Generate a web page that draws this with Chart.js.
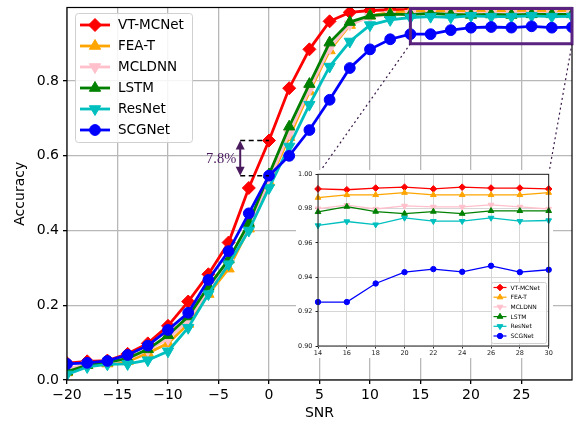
<!DOCTYPE html>
<html><head><meta charset="utf-8">
<script src="https://cdn.jsdelivr.net/npm/chart.js@4.4.1/dist/chart.umd.min.js"></script>
<style>
html,body{margin:0;padding:0;background:#fff;}
#wrap{position:relative;width:582px;height:422px;overflow:hidden;}
#main{position:absolute;left:0;top:0;width:582px;height:422px;}
#inset{position:absolute;left:296px;top:170px;width:257px;height:188px;}
</style></head><body>
<div id="wrap"><canvas id="main" width="582" height="422"></canvas><canvas id="inset" width="257" height="188"></canvas></div>
<script>
// ---------------- data ----------------
const snr = [-20,-18,-16,-14,-12,-10,-8,-6,-4,-2,0,2,4,6,8,10,12,14,16,18,20,22,24,26,28,30];
const vtmcnet = [0.045,0.050,0.052,0.070,0.098,0.145,0.210,0.283,0.368,0.514,0.641,0.781,0.885,0.960,0.984,0.989,0.991,0.9915,0.991,0.992,0.9925,0.9915,0.9925,0.992,0.992,0.9915];
const feat    = [0.020,0.040,0.044,0.050,0.072,0.098,0.150,0.230,0.298,0.405,0.530,0.650,0.772,0.882,0.950,0.975,0.983,0.9864,0.988,0.988,0.9893,0.988,0.988,0.988,0.988,0.9893];
const mcldnn  = [0.030,0.042,0.046,0.055,0.080,0.110,0.160,0.240,0.315,0.410,0.535,0.660,0.778,0.888,0.952,0.972,0.978,0.980,0.982,0.9798,0.9816,0.981,0.981,0.9822,0.981,0.9798];
const lstm    = [0.022,0.040,0.047,0.058,0.082,0.120,0.170,0.250,0.322,0.420,0.550,0.678,0.792,0.903,0.958,0.975,0.979,0.9781,0.9812,0.9783,0.9771,0.9783,0.9771,0.9787,0.9787,0.9787];
const resnet  = [0.015,0.035,0.042,0.043,0.053,0.077,0.140,0.230,0.310,0.400,0.514,0.625,0.737,0.839,0.906,0.950,0.964,0.9702,0.9725,0.9707,0.9746,0.9727,0.9727,0.9746,0.9727,0.9731];
const scgnet  = [0.043,0.046,0.051,0.067,0.092,0.134,0.180,0.268,0.345,0.446,0.547,0.600,0.669,0.750,0.835,0.885,0.912,0.9256,0.9256,0.9364,0.943,0.9448,0.9432,0.9467,0.943,0.9444];
const seriesNames = ['VT-MCNet','FEA-T','MCLDNN','LSTM','ResNet','SCGNet'];
const seriesValues = [vtmcnet, feat, mcldnn, lstm, resnet, scgnet];

const xTicks = [-20,-15,-10,-5,0,5,10,15,20,25];
const yTicks = [0.0,0.2,0.4,0.6,0.8];
const insetXTicks = [14,16,18,20,22,24,26,28,30];
const insetYTicks = [0.90,0.92,0.94,0.96,0.98,1.00];
const zoomX = [14,30];
const zoomY = [0.90,1.00];
const gapSnr = 0;          // SNR where the gap is marked
const gapArrowSnr = -2.85; // x position of the arrow
const gapLabel = '7.8%';

// ---------------- styles ----------------
const styles = [
  {color:'#ff0000', shape:'rectRot',  rot:0,   r:6.5, ir:3.3},
  {color:'#ffa500', shape:'triangle', rot:0,   r:6.5, ir:3.3},
  {color:'#ffc0cb', shape:'triangle', rot:180, r:6.5, ir:3.3},
  {color:'#008000', shape:'triangle', rot:0,   r:6.5, ir:3.3},
  {color:'#00bfbf', shape:'triangle', rot:180, r:6.5, ir:3.3},
  {color:'#0000ff', shape:'circle',   rot:0,   r:5.4, ir:2.7}
];
const FONT = 'DejaVu Sans';
const purple = '#5a2380';
const annotPurple = '#4a1a5e';

function drawMarker(ctx, shape, x, y, r, rot, color){
  ctx.save(); ctx.fillStyle = color; ctx.strokeStyle = color; ctx.lineWidth = 1; ctx.setLineDash([]);
  ctx.beginPath();
  if (shape === 'circle') { ctx.arc(x, y, r, 0, Math.PI*2); }
  else if (shape === 'rectRot') { ctx.moveTo(x-r,y); ctx.lineTo(x,y-r); ctx.lineTo(x+r,y); ctx.lineTo(x,y+r); ctx.closePath(); }
  else {
    let a = rot*Math.PI/180;
    ctx.moveTo(x+Math.sin(a)*r, y-Math.cos(a)*r); a += 2*Math.PI/3;
    ctx.lineTo(x+Math.sin(a)*r, y-Math.cos(a)*r); a += 2*Math.PI/3;
    ctx.lineTo(x+Math.sin(a)*r, y-Math.cos(a)*r); ctx.closePath();
  }
  ctx.fill(); ctx.stroke(); ctx.restore();
}
function roundRect(ctx, x, y, w, h, r){
  ctx.beginPath(); ctx.moveTo(x+r,y); ctx.lineTo(x+w-r,y); ctx.quadraticCurveTo(x+w,y,x+w,y+r);
  ctx.lineTo(x+w,y+h-r); ctx.quadraticCurveTo(x+w,y+h,x+w-r,y+h); ctx.lineTo(x+r,y+h);
  ctx.quadraticCurveTo(x,y+h,x,y+h-r); ctx.lineTo(x,y+r); ctx.quadraticCurveTo(x,y,x+r,y); ctx.closePath();
}
function drawLegend(ctx, o){
  ctx.save();
  roundRect(ctx, o.x, o.y, o.w, o.h, o.rad);
  ctx.fillStyle = 'rgba(255,255,255,0.85)'; ctx.fill();
  ctx.strokeStyle = '#d0d0d0'; ctx.lineWidth = 1; ctx.stroke();
  seriesNames.forEach((name, i) => {
    const st = styles[i];
    const cy = o.row0 + i*o.dy;
    ctx.strokeStyle = st.color; ctx.lineWidth = o.lw; ctx.setLineDash([]);
    ctx.beginPath(); ctx.moveTo(o.hx0, cy); ctx.lineTo(o.hx1, cy); ctx.stroke();
    drawMarker(ctx, st.shape, (o.hx0+o.hx1)/2, cy, o.inset ? st.ir : st.r, st.rot, st.color);
    ctx.fillStyle = '#000'; ctx.font = o.font; ctx.textAlign = 'left'; ctx.textBaseline = 'middle';
    ctx.fillText(name, o.tx, cy + 0.5);
  });
  ctx.restore();
}
const minus = v => String(v).replace('-', '\u2212');
const noPad = s => { s.paddingTop = 0; s.paddingBottom = 0; s.paddingLeft = 0; s.paddingRight = 0; };

function makeDatasets(from, to, inset){
  return seriesNames.map((name, i) => {
    const st = styles[i];
    const pts = [];
    for (let j = from; j <= to; j++) pts.push({x: snr[j], y: seriesValues[i][j]});
    return {
      label: name, data: pts,
      borderColor: st.color, backgroundColor: st.color,
      borderWidth: inset ? 1.3 : 2.8,
      pointStyle: st.shape, pointRotation: st.rot,
      pointRadius: inset ? st.ir : st.r, pointHoverRadius: inset ? st.ir : st.r,
      pointBackgroundColor: st.color, pointBorderColor: st.color, pointBorderWidth: 1,
      order: seriesNames.length - i, clip: inset ? 4 : 0, tension: 0, fill: false
    };
  });
}

// ---------------- inset chart ----------------
const insetLeft = 296, insetTop = 170;
const i0 = snr.indexOf(zoomX[0]), i1 = snr.indexOf(zoomX[1]);
const insetDecor = {
  id: 'insetDecor',
  beforeDraw(chart){
    const ctx = chart.ctx; ctx.save(); ctx.fillStyle = '#fff'; ctx.fillRect(0,0,chart.width,chart.height); ctx.restore();
  },
  afterDatasetsDraw(chart){
    const {ctx, chartArea:a} = chart;
    ctx.save(); ctx.strokeStyle = '#222'; ctx.lineWidth = 1; ctx.strokeRect(a.left, a.top, a.right-a.left, a.bottom-a.top); ctx.restore();
    drawLegend(ctx, {x:195.5, y:112.5, w:55, h:61, rad:2, row0:117.5, dy:9.7, hx0:197.5, hx1:210.5, tx:214.5, lw:1.2, font:'6px '+FONT, inset:true});
  }
};
const insetChart = new Chart(document.getElementById('inset'), {
  type: 'line',
  data: { datasets: makeDatasets(i0, i1, true) },
  options: {
    responsive: false, animation: false, devicePixelRatio: 1,
    layout: { padding: {left:0, right:4, top:4, bottom:0} },
    plugins: { legend: {display:false}, tooltip: {enabled:false} },
    scales: {
      x: { type:'linear', min: zoomX[0], max: zoomX[1],
        afterBuildTicks: s => { s.ticks = insetXTicks.map(v => ({value:v})); },
        afterFit: s => { s.height = 12; noPad(s); },
        ticks: { font:{family:FONT, size:6.5}, color:'#222', padding:1, maxRotation:0, autoSkip:false, callback: v => String(v) },
        grid: { color:'#d6d6d6', lineWidth:1, tickColor:'#222', tickLength:2.5 },
        border: { display:false }
      },
      y: { type:'linear', min: zoomY[0], max: zoomY[1],
        afterBuildTicks: s => { s.ticks = insetYTicks.map(v => ({value:v})); },
        afterFit: s => { s.width = 22; noPad(s); },
        ticks: { font:{family:FONT, size:6.5}, color:'#222', padding:3, autoSkip:false, callback: v => Number(v).toFixed(2) },
        grid: { color:'#d6d6d6', lineWidth:1, tickColor:'#222', tickLength:2.5 },
        border: { display:false }
      }
    }
  },
  plugins: [insetDecor]
});

// ---------------- main chart ----------------
const gi = snr.indexOf(gapSnr);
const mainDecor = {
  id: 'mainDecor',
  afterDatasetsDraw(chart){
    const {ctx, chartArea:a, scales:{x, y}} = chart;
    ctx.save();
    // gap annotation
    const yTop = y.getPixelForValue(vtmcnet[gi]), yBot = y.getPixelForValue(scgnet[gi]);
    const xA = x.getPixelForValue(gapArrowSnr), xR = x.getPixelForValue(snr[gi]);
    ctx.strokeStyle = '#000'; ctx.lineWidth = 1.5; ctx.setLineDash([5,3.5]);
    ctx.beginPath(); ctx.moveTo(xA, yTop); ctx.lineTo(xR, yTop); ctx.moveTo(xA, yBot); ctx.lineTo(xR, yBot); ctx.stroke();
    ctx.setLineDash([]);
    const hl = 9, hw = 4.5;
    ctx.strokeStyle = annotPurple; ctx.fillStyle = annotPurple; ctx.lineWidth = 2;
    ctx.beginPath(); ctx.moveTo(xA, yTop + hl - 1); ctx.lineTo(xA, yBot - hl + 1); ctx.stroke();
    ctx.beginPath(); ctx.moveTo(xA, yTop); ctx.lineTo(xA - hw, yTop + hl); ctx.lineTo(xA + hw, yTop + hl); ctx.closePath(); ctx.fill();
    ctx.beginPath(); ctx.moveTo(xA, yBot); ctx.lineTo(xA - hw, yBot - hl); ctx.lineTo(xA + hw, yBot - hl); ctx.closePath(); ctx.fill();
    ctx.font = '14.5px "Liberation Serif", "DejaVu Serif", serif'; ctx.textAlign = 'right'; ctx.textBaseline = 'middle';
    ctx.fillText(gapLabel, xA - 4, (yTop + yBot)/2 + 1);
    // frame
    ctx.strokeStyle = '#000'; ctx.lineWidth = 1.2;
    ctx.strokeRect(a.left, a.top, a.right - a.left, a.bottom - a.top);
    // zoom box
    const bx0 = x.getPixelForValue(zoomX[0]), bx1 = x.getPixelForValue(zoomX[1]);
    const by0 = y.getPixelForValue(zoomY[1]), by1 = y.getPixelForValue(zoomY[0]);
    const bt = Math.max(by0, a.top + 1);
    ctx.strokeStyle = purple; ctx.lineWidth = 3;
    ctx.strokeRect(bx0, bt, bx1 - bx0, by1 - bt);
    // connectors
    const ia = insetChart.chartArea;
    ctx.strokeStyle = '#3a1a4a'; ctx.lineWidth = 1.2; ctx.setLineDash([2,3]);
    ctx.beginPath();
    ctx.moveTo(bx0, by1); ctx.lineTo(insetLeft + ia.left, insetTop + ia.top);
    ctx.moveTo(bx1, by1); ctx.lineTo(insetLeft + ia.right, insetTop + ia.top);
    ctx.stroke();
    ctx.setLineDash([]);
    ctx.restore();
    drawLegend(ctx, {x:75.5, y:13.5, w:117, h:129, rad:3, row0:25, dy:21, hx0:80, hx1:110, tx:118, lw:2.8, font:'13.5px '+FONT, inset:false});
  }
};
const mainChart = new Chart(document.getElementById('main'), {
  type: 'line',
  data: { datasets: makeDatasets(0, snr.length - 1, false) },
  options: {
    responsive: false, animation: false, devicePixelRatio: 1,
    layout: { padding: {left:0, right:10, top:5, bottom:0} },
    plugins: { legend: {display:false}, tooltip: {enabled:false} },
    scales: {
      x: { type:'linear', min:-20, max:30,
        afterBuildTicks: s => { s.ticks = xTicks.map(v => ({value:v})); },
        afterFit: s => { s.height = 42; noPad(s); },
        ticks: { font:{family:FONT, size:14}, color:'#000', padding:3, maxRotation:0, autoSkip:false, callback: v => minus(v) },
        grid: { color:'#b8b8b8', lineWidth:1.3, tickColor:'#000', tickLength:4 },
        border: { display:false },
        title: { display:true, text:'SNR', font:{family:FONT, size:14}, color:'#000', padding:{top:0, bottom:0} }
      },
      y: { type:'linear', min:0, max:0.997,
        afterBuildTicks: s => { s.ticks = yTicks.map(v => ({value:v})); },
        afterFit: s => { s.width = 67; noPad(s); },
        ticks: { font:{family:FONT, size:14}, color:'#000', padding:4, autoSkip:false, callback: v => Number(v).toFixed(1) },
        grid: { color:'#b8b8b8', lineWidth:1.3, tickColor:'#000', tickLength:4 },
        border: { display:false },
        title: { display:true, text:'Accuracy', font:{family:FONT, size:14}, color:'#000', padding:{top:12, bottom:0} }
      }
    }
  },
  plugins: [mainDecor]
});
</script></body></html>
